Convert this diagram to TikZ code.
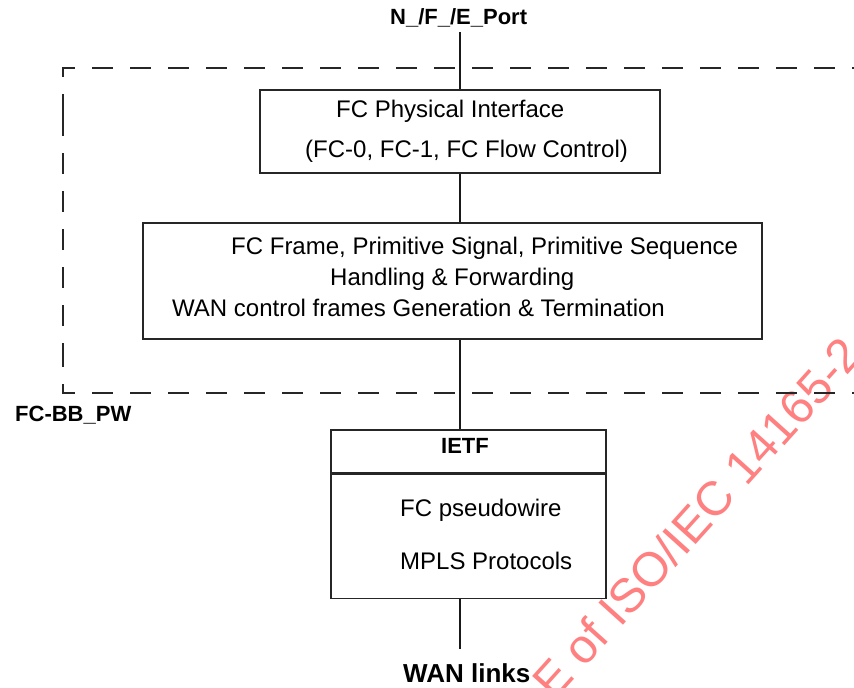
\documentclass[tikz,border=0pt]{standalone}
\usepackage{fontspec}
\setmainfont{Liberation Sans}
\usetikzlibrary{positioning,calc}

\tikzset{
	layer/.style={draw=black!85, line width=1.2bp, minimum width=#1},
	txt/.style={anchor=base west, inner sep=0pt, font=\fontsize{24bp}{28bp}\selectfont},
	btxt/.style={anchor=base west, inner sep=0pt, font=\fontsize{22bp}{26bp}\selectfont\bfseries},
	link/.style={draw=black!90, line width=2bp},
}

\begin{document}
\begin{tikzpicture}[x=1bp, y=-1bp]
	\useasboundingbox (0,0) rectangle (854,688);
	
	% watermark
	\node[anchor=base west, inner sep=0pt, rotate=48, text=red!50, font=\fontsize{48bp}{48bp}\selectfont] (mark) at (554,702) {E of ISO/IEC 14165-2};
	
	% FC-BB_PW border
	\draw[black!85, line width=1.2bp, dash pattern=on 21bp off 17bp] (63,115) -- (63,68) -- (880,68);
	\draw[black!85, line width=1.2bp, dash pattern=on 21bp off 17bp] (63,346) -- (63,393) -- (880,393);
	\draw[black!85, line width=1.2bp, dash pattern=on 21bp off 17bp] (63,115) -- (63,346);
	\node[btxt] (bbpw) at (15,421) {FC-BB\_PW};
	
	\node[btxt] (port) at (390,25) {N\_/F\_/E\_Port};
	\coordinate (top) at (460,32);
	
	\node[layer=400bp, minimum height=83bp] (phy) at (460,131.5) {};
	\node[txt] (phy1) at (336,118) {FC Physical Interface};
	\node[txt] (phy2) at (305,158) {(FC-0, FC-1, FC Flow Control)};
	
	\node[layer=619bp, minimum height=116bp] (frame) at (452.5,281) {};
	\node[txt] (frame1) at (231,254) {FC Frame, Primitive Signal, Primitive Sequence};
	\node[txt] (frame2) at (330,285) {Handling \& Forwarding};
	\node[txt] (frame3) at (172,316) {WAN control frames Generation \& Termination};
	
	\node[layer=275bp, minimum height=43bp] (ietf) at (468.5,451.5) {};
	\node[layer=275bp, minimum height=124bp, below=0pt of ietf] (mpls) {};
	\node[btxt] (ietf1) at (441,453) {IETF};
	\node[txt] (pw) at (400,516) {FC pseudowire};
	\node[txt] (proto) at (400,569) {MPLS Protocols};
	
	\coordinate (bot) at (460,649);
	\node[anchor=base west, inner sep=0pt, font=\fontsize{26bp}{30bp}\selectfont\bfseries] (wan) at (403,682) {WAN links};
	
	\path[link] (top) -- (top |- phy.north);
	\path[link] (phy.south -| top) -- (frame.north -| top);
	\path[link] (frame.south -| top) -- (ietf.north -| top);
	\path[link] (mpls.south -| bot) -- (bot);
	
\end{tikzpicture}
\end{document}
